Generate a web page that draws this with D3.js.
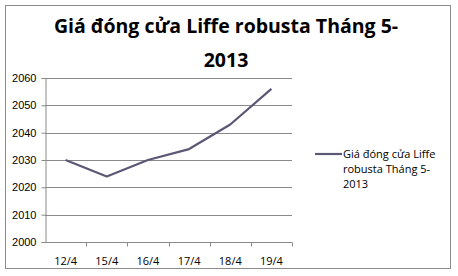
<!DOCTYPE html>
<html>
<head>
<meta charset="utf-8">
<script src="https://cdn.jsdelivr.net/npm/d3@7"></script>
<style>
  body { margin: 0; background: #fff; }
</style>
</head>
<body>
<div id="chart"></div>
<script>
const categories = ["12/4", "15/4", "16/4", "17/4", "18/4", "19/4"];
const prices = [2030, 2024, 2030, 2034, 2043, 2056];
const yTicks = [2000, 2010, 2020, 2030, 2040, 2050, 2060];

const width = 458, height = 276;
const margin = {left: 45, right: 166, top: 78, bottom: 34};
const lineColor = "#5b5876";

const svg = d3.select("#chart").append("svg")
    .attr("width", width)
    .attr("height", height)
    .attr("font-family", "'Open Sans', sans-serif");

svg.append("rect")
    .attr("x", 5.5).attr("y", 5.5)
    .attr("width", 445).attr("height", 263)
    .attr("fill", "#fff")
    .attr("stroke", "#8c8c8c");

// title in two lines
const title = svg.append("text")
    .attr("text-anchor", "middle")
    .attr("font-weight", "bold")
    .attr("font-size", 19.5)
    .attr("fill", "#000");
title.append("tspan").attr("x", 226).attr("y", 33).text("Giá đóng cửa Liffe robusta Tháng 5-");
title.append("tspan").attr("x", 226).attr("y", 67).text("2013");

const x = d3.scaleBand()
    .domain(categories)
    .range([margin.left, width - margin.right]);

const y = d3.scaleLinear()
    .domain([2000, 2060])
    .range([height - margin.bottom, margin.top]);

// gridlines
svg.append("g")
  .selectAll("line")
  .data(yTicks.slice(1))
  .join("line")
    .attr("x1", margin.left)
    .attr("x2", width - margin.right)
    .attr("y1", d => Math.round(y(d)) + 0.5)
    .attr("y2", d => Math.round(y(d)) + 0.5)
    .attr("stroke", "#8a8a8a");

// y axis
const yAxis = svg.append("g")
    .attr("transform", `translate(${margin.left + 0.5},0)`)
    .call(d3.axisLeft(y).tickValues(yTicks).tickSize(4).tickPadding(5).tickFormat(d3.format("d")));
yAxis.select(".domain").attr("stroke", "#8a8a8a");
yAxis.selectAll(".tick line").attr("stroke", "#8a8a8a");
yAxis.selectAll(".tick text").attr("font-size", 11).attr("fill", "#000");

// x axis with ticks between categories
const xAxis = svg.append("g")
    .attr("transform", `translate(0,${Math.round(y(2000)) + 0.5})`);
xAxis.append("line")
    .attr("x1", margin.left).attr("x2", width - margin.right)
    .attr("stroke", "#8a8a8a");
xAxis.selectAll(".xt")
  .data(categories)
  .join("line")
    .attr("class", "xt")
    .attr("x1", d => Math.round(x(d) + x.bandwidth()) + 0.5)
    .attr("x2", d => Math.round(x(d) + x.bandwidth()) + 0.5)
    .attr("y1", 0).attr("y2", 4)
    .attr("stroke", "#8a8a8a");
xAxis.selectAll("text")
  .data(categories)
  .join("text")
    .attr("x", d => x(d) + x.bandwidth() / 2)
    .attr("y", 22)
    .attr("text-anchor", "middle")
    .attr("font-size", 11)
    .attr("fill", "#000")
    .text(d => d);

// series line
const line = d3.line()
    .x((d, i) => x(categories[i]) + x.bandwidth() / 2)
    .y(d => y(d));

svg.append("path")
    .datum(prices)
    .attr("d", line)
    .attr("fill", "none")
    .attr("stroke", lineColor)
    .attr("stroke-width", 2.2)
    .attr("stroke-linejoin", "round");

// legend
const legend = svg.append("g").attr("transform", "translate(315,154)");
legend.append("line")
    .attr("x1", 0).attr("x2", 27)
    .attr("stroke", lineColor)
    .attr("stroke-width", 2.2);
const lt = legend.append("text")
    .attr("font-size", 11)
    .attr("fill", "#000");
["Giá đóng cửa Liffe", "robusta Tháng 5-", "2013"].forEach((s, i) => {
  lt.append("tspan").attr("x", 28).attr("y", 4 + i * 15).text(s);
});
</script>
</body>
</html>
